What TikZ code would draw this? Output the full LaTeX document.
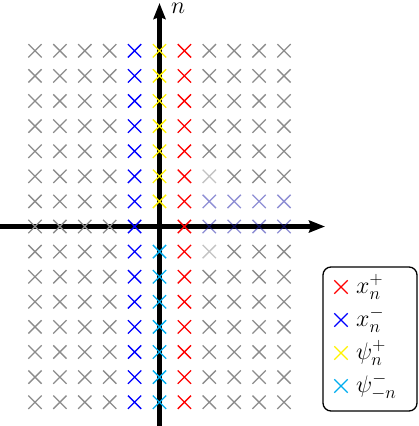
\RequirePackage{fix-cm}
\documentclass[tikz,border=0pt]{standalone}
\usetikzlibrary{shapes.misc,arrows.meta}
\DeclareMathSizes{24}{24}{18}{14}
\definecolor{gx}{RGB}{140,140,140}
\definecolor{lx}{RGB}{195,195,195}
\definecolor{bx}{RGB}{30,30,170}
\begin{document}
\begin{tikzpicture}[x=1pt,y=-1pt,
  xm/.style={cross out,draw,inner sep=0pt,minimum size=12pt,line width=1.3pt},
  axis/.style={line width=4.5pt,-{Stealth[length=16pt,width=12pt,inset=2pt]}},
  lbl/.style={inner sep=0pt,anchor=base west,font=\fontsize{24}{28}\selectfont}]
\useasboundingbox (0,0) rectangle (419,426);
% axes
\coordinate (hl) at (0,226.5);
\coordinate (hr) at (325,226.5);
\coordinate (vb) at (159.5,426);
\coordinate (vt) at (159.5,3);
\draw[axis] (hl) -- (hr);
\draw[axis] (vb) -- (vt);
\node[lbl] (nlab) at (171,13) {$n$};
% left gray columns
\foreach \c in {-5,...,-2}{\foreach \r in {-7,...,7}{
  \node[xm,draw=gx] (p\c r\r) at (\c*24.9+159.5,226.5-\r*25.1) {};}}
% blue column
\foreach \r in {-7,...,7}{
  \node[xm,draw=blue] (pm1r\r) at (-24.9+159.5,226.5-\r*25.1) {};}
% yellow / cyan column
\foreach \r in {1,...,7}{
  \node[xm,draw=yellow] (p0r\r) at (159.5,226.5-\r*25.1) {};}
\foreach \r in {-7,...,-1}{
  \node[xm,draw=cyan] (p0r\r) at (159.5,226.5-\r*25.1) {};}
% red column
\foreach \r in {-7,...,7}{
  \node[xm,draw=red] (p1r\r) at (24.9+159.5,226.5-\r*25.1) {};}
% right columns
\foreach \c in {2,...,5}{\foreach \r in {-7,...,7}{
  \def\col{gx}\def\op{1}%
  \ifnum\r=0 \def\col{bx}\def\op{0.5}\fi
  \ifnum\r=1 \def\col{bx}\def\op{0.5}\fi
  \ifnum\c=2 \ifnum\r=2 \def\col{lx}\fi \ifnum\r=-1 \def\col{lx}\fi \fi
  \node[xm,draw=\col,draw opacity=\op] (p\c r\r) at (\c*24.9+159.5,226.5-\r*25.1) {};}}
% legend
\node[draw,rounded corners=8pt,line width=1.3pt,minimum width=94pt,minimum height=144pt,inner sep=0pt] (legend) at (370,339) {};
\node[xm,draw=red] (l1) at (341,287) {};
\node[xm,draw=blue] (l2) at (341,320) {};
\node[xm,draw=yellow] (l3) at (341,353) {};
\node[xm,draw=cyan] (l4) at (341,386) {};
\node[lbl] (t1) at (356,293.5) {$x_n^+$};
\node[lbl] (t2) at (356,326.5) {$x_n^-$};
\node[lbl] (t3) at (356,359.5) {$\psi_n^+$};
\node[lbl] (t4) at (356,392.5) {$\psi_{-n}^-$};
\end{tikzpicture}
\end{document}
